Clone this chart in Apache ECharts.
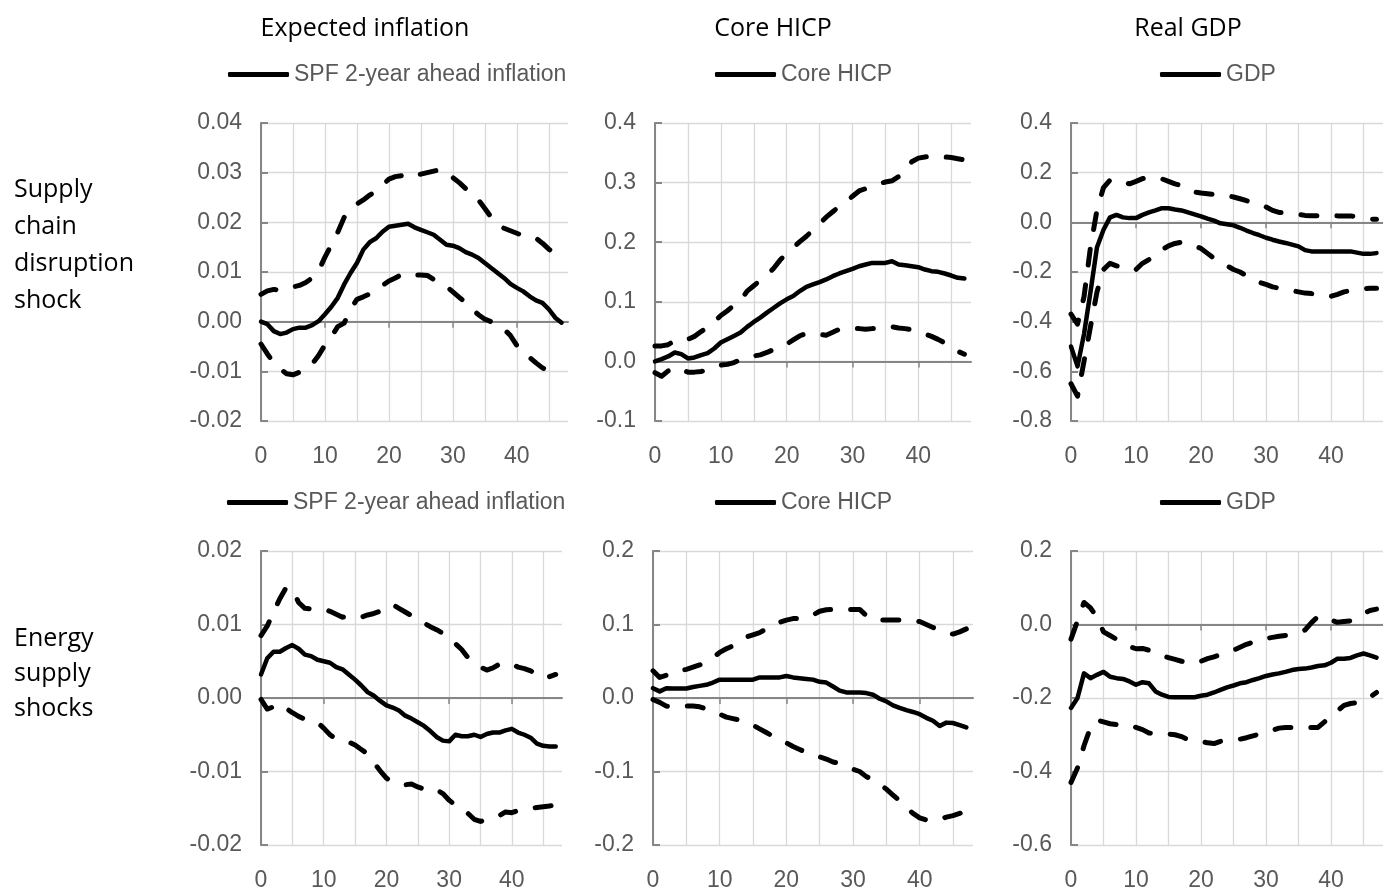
<!DOCTYPE html>
<html><head><meta charset="utf-8">
<script src="https://cdn.jsdelivr.net/npm/echarts/dist/echarts.min.js"></script>
<style>html,body{margin:0;padding:0;background:#fff}#c{width:1383px;height:892px}</style>
</head><body><div id="c"></div>
<script>
// ---------- data ----------
const horizon = [0,1,2,3,4,5,6,7,8,9,10,11,12,13,14,15,16,17,18,19,20,21,22,23,24,25,26,27,28,29,30,31,32,33,34,35,36,37,38,39,40,41,42,43,44,45,46,47,48];
const colTitles = ['Expected inflation', 'Core HICP', 'Real GDP'];
const rowLabels = [['Supply', 'chain', 'disruption', 'shock'], ['Energy', 'supply', 'shocks']];
const legendNames = ['SPF 2-year ahead inflation', 'Core HICP', 'GDP'];
// y axis: [min, max, interval, decimals]
const yAxisScales = [[-0.02, 0.04, 0.01, 2], [-0.1, 0.4, 0.1, 1], [-0.8, 0.4, 0.2, 1],
                     [-0.02, 0.02, 0.01, 2], [-0.2, 0.2, 0.1, 1], [-0.6, 0.2, 0.2, 1]];

// Supply chain disruption shock
const scSpfMid = [0, -0.0005, -0.0019, -0.0025, -0.0022, -0.0015, -0.0012, -0.0012, -0.0007, 0.0001, 0.0015, 0.003, 0.0048, 0.0075, 0.0098, 0.0118, 0.0145, 0.016, 0.0168, 0.0181, 0.0191, 0.0193, 0.0195, 0.0197, 0.019, 0.0185, 0.018, 0.0175, 0.0165, 0.0155, 0.0153, 0.0148, 0.014, 0.0135, 0.0128, 0.0118, 0.0108, 0.0098, 0.0088, 0.0076, 0.0068, 0.0061, 0.0051, 0.0043, 0.0038, 0.0025, 0.0008, -0.0002];
const scSpfUp = [0.0055, 0.0062, 0.0065, 0.0063, 0.0066, 0.007, 0.0073, 0.0079, 0.0088, 0.0102, 0.013, 0.0155, 0.018, 0.021, 0.0225, 0.0237, 0.0245, 0.0255, 0.0263, 0.0275, 0.0287, 0.0292, 0.0294, 0.03, 0.0296, 0.0297, 0.03, 0.0303, 0.0306, 0.03, 0.029, 0.028, 0.0268, 0.0253, 0.0245, 0.0228, 0.021, 0.0195, 0.0188, 0.0183, 0.0178, 0.0173, 0.0171, 0.0168, 0.0158, 0.0146, 0.0138, 0.013];
const scSpfLo = [-0.0045, -0.0065, -0.0083, -0.0095, -0.0105, -0.0107, -0.0102, -0.0097, -0.0085, -0.0068, -0.0047, -0.003, -0.001, -0.0003, 0.0025, 0.0045, 0.005, 0.0056, 0.0065, 0.0073, 0.0082, 0.0088, 0.0095, 0.0097, 0.0094, 0.0094, 0.0093, 0.0085, 0.0078, 0.0071, 0.006, 0.0049, 0.0038, 0.0025, 0.0014, 0.0005, 0.0, -0.0008, -0.0015, -0.0028, -0.0048, -0.0058, -0.0072, -0.0083, -0.0093, -0.0099, -0.0103, -0.0105];

const scCoreMid = [0, 0.0039, 0.0083, 0.015, 0.0122, 0.005, 0.0067, 0.0106, 0.0139, 0.0217, 0.0317, 0.0373, 0.0428, 0.0484, 0.0579, 0.0662, 0.0735, 0.0818, 0.0896, 0.0974, 0.1041, 0.1096, 0.118, 0.1252, 0.1291, 0.133, 0.1375, 0.143, 0.1475, 0.1514, 0.1553, 0.1597, 0.1625, 0.1653, 0.1653, 0.1653, 0.168, 0.1625, 0.1614, 0.1597, 0.158, 0.1541, 0.1514, 0.1503, 0.1475, 0.1441, 0.1402, 0.1391];
const scCoreUp = [0.026, 0.026, 0.028, 0.035, 0.034, 0.037, 0.042, 0.05, 0.057, 0.067, 0.077, 0.085, 0.094, 0.102, 0.118, 0.127, 0.136, 0.145, 0.156, 0.17, 0.181, 0.191, 0.201, 0.21, 0.22, 0.231, 0.242, 0.251, 0.26, 0.268, 0.277, 0.286, 0.29, 0.294, 0.298, 0.301, 0.303, 0.31, 0.322, 0.335, 0.341, 0.343, 0.344, 0.344, 0.343, 0.342, 0.34, 0.338];
const scCoreLo = [-0.019, -0.025, -0.016, -0.01, -0.014, -0.018, -0.018, -0.017, -0.014, -0.01, -0.006, -0.005, -0.002, 0.003, 0.007, 0.009, 0.011, 0.015, 0.02, 0.025, 0.029, 0.036, 0.043, 0.047, 0.047, 0.045, 0.044, 0.049, 0.054, 0.055, 0.055, 0.055, 0.054, 0.055, 0.055, 0.056, 0.058, 0.056, 0.055, 0.053, 0.049, 0.046, 0.042, 0.037, 0.031, 0.025, 0.017, 0.012];

const scGdpMid = [-0.5, -0.58, -0.45, -0.28, -0.1, -0.03, 0.02, 0.03, 0.02, 0.017, 0.017, 0.03, 0.04, 0.048, 0.057, 0.057, 0.052, 0.048, 0.04, 0.032, 0.024, 0.015, 0.007, -0.004, -0.008, -0.012, -0.022, -0.033, -0.043, -0.052, -0.062, -0.07, -0.077, -0.083, -0.09, -0.097, -0.112, -0.117, -0.117, -0.117, -0.117, -0.117, -0.117, -0.117, -0.122, -0.127, -0.127, -0.124];
const scGdpUp = [-0.37, -0.41, -0.3, -0.1, 0.05, 0.14, 0.17, 0.172, 0.163, 0.155, 0.165, 0.176, 0.182, 0.18, 0.175, 0.165, 0.155, 0.148, 0.13, 0.122, 0.118, 0.115, 0.112, 0.11, 0.108, 0.102, 0.095, 0.087, 0.08, 0.073, 0.062, 0.048, 0.04, 0.038, 0.037, 0.032, 0.028, 0.027, 0.027, 0.027, 0.027, 0.026, 0.026, 0.026, 0.022, 0.017, 0.013, 0.012];
const scGdpLo = [-0.65, -0.7, -0.56, -0.42, -0.28, -0.19, -0.165, -0.175, -0.185, -0.193, -0.19, -0.165, -0.15, -0.135, -0.11, -0.095, -0.085, -0.08, -0.085, -0.095, -0.105, -0.125, -0.145, -0.16, -0.175, -0.19, -0.2, -0.215, -0.235, -0.242, -0.25, -0.26, -0.265, -0.27, -0.275, -0.28, -0.285, -0.287, -0.29, -0.295, -0.298, -0.29, -0.28, -0.275, -0.272, -0.268, -0.265, -0.265];

// Energy supply shocks
const enSpfMid = [0.0032, 0.0054, 0.0063, 0.0063, 0.0068, 0.0072, 0.0067, 0.0059, 0.0057, 0.0052, 0.005, 0.0048, 0.0042, 0.0039, 0.0032, 0.0025, 0.0017, 0.0008, 0.0003, -0.0004, -0.001, -0.0013, -0.0017, -0.0024, -0.0028, -0.0033, -0.0038, -0.0045, -0.0053, -0.0058, -0.0059, -0.005, -0.0052, -0.0052, -0.005, -0.0053, -0.0049, -0.0047, -0.0047, -0.0044, -0.0042, -0.0047, -0.005, -0.0054, -0.0062, -0.0065, -0.0066, -0.0066];
const enSpfUp = [0.0085, 0.0098, 0.0117, 0.0135, 0.015, 0.0148, 0.013, 0.0122, 0.0121, 0.0121, 0.0121, 0.0118, 0.0114, 0.011, 0.0112, 0.011, 0.011, 0.0113, 0.0115, 0.0118, 0.0125, 0.0127, 0.0122, 0.0117, 0.0112, 0.0107, 0.0102, 0.0097, 0.0093, 0.0088, 0.008, 0.0074, 0.0066, 0.0055, 0.0048, 0.0042, 0.0038, 0.0041, 0.0046, 0.0048, 0.0046, 0.0042, 0.004, 0.0037, 0.0032, 0.0027, 0.0029, 0.0032];
const enSpfLo = [-0.0002, -0.0015, -0.0012, -0.0008, -0.0014, -0.002, -0.0025, -0.0029, -0.0031, -0.0033, -0.0041, -0.005, -0.0056, -0.0058, -0.006, -0.0064, -0.007, -0.0076, -0.0088, -0.0099, -0.0109, -0.0115, -0.0117, -0.0118, -0.0117, -0.0121, -0.0124, -0.0122, -0.0125, -0.013, -0.0139, -0.0146, -0.0152, -0.0157, -0.0165, -0.0168, -0.0165, -0.0162, -0.016, -0.0155, -0.0156, -0.0153, -0.0152, -0.015, -0.0149, -0.0148, -0.0147, -0.0145];

const enCoreMid = [0.0134, 0.009, 0.0134, 0.013, 0.013, 0.013, 0.015, 0.0165, 0.018, 0.021, 0.025, 0.025, 0.025, 0.025, 0.025, 0.025, 0.028, 0.028, 0.028, 0.028, 0.03, 0.028, 0.027, 0.026, 0.025, 0.022, 0.021, 0.0156, 0.01, 0.0076, 0.0076, 0.0076, 0.0067, 0.0045, -0.001, -0.0045, -0.01, -0.0134, -0.0165, -0.019, -0.022, -0.027, -0.031, -0.038, -0.0335, -0.034, -0.037, -0.04];
const enCoreUp = [0.037, 0.028, 0.031, 0.036, 0.037, 0.039, 0.042, 0.045, 0.049, 0.055, 0.062, 0.067, 0.071, 0.077, 0.083, 0.086, 0.089, 0.094, 0.098, 0.103, 0.106, 0.108, 0.108, 0.109, 0.113, 0.118, 0.12, 0.1205, 0.1205, 0.1205, 0.1205, 0.1205, 0.112, 0.106, 0.106, 0.106, 0.106, 0.106, 0.106, 0.105, 0.104, 0.1, 0.096, 0.092, 0.089, 0.087, 0.09, 0.094];
const enCoreLo = [-0.002, -0.006, -0.011, -0.012, -0.011, -0.011, -0.011, -0.012, -0.015, -0.017, -0.022, -0.026, -0.028, -0.03, -0.033, -0.037, -0.042, -0.047, -0.052, -0.056, -0.061, -0.066, -0.07, -0.074, -0.076, -0.08, -0.083, -0.087, -0.089, -0.093, -0.097, -0.1, -0.107, -0.111, -0.117, -0.124, -0.132, -0.14, -0.149, -0.157, -0.163, -0.166, -0.167, -0.165, -0.162, -0.16, -0.157, -0.154];

const enGdpMid = [-0.227, -0.2, -0.133, -0.146, -0.137, -0.129, -0.142, -0.146, -0.148, -0.155, -0.164, -0.157, -0.16, -0.182, -0.191, -0.197, -0.198, -0.198, -0.198, -0.198, -0.194, -0.191, -0.185, -0.178, -0.171, -0.166, -0.16, -0.157, -0.151, -0.146, -0.14, -0.136, -0.133, -0.129, -0.124, -0.121, -0.12, -0.117, -0.113, -0.111, -0.104, -0.093, -0.093, -0.091, -0.084, -0.079, -0.084, -0.09];
const enGdpUp = [-0.04, 0.01, 0.06, 0.045, 0.02, -0.02, -0.03, -0.04, -0.05, -0.06, -0.066, -0.065, -0.07, -0.08, -0.085, -0.09, -0.095, -0.1, -0.105, -0.105, -0.1, -0.093, -0.088, -0.082, -0.076, -0.07, -0.062, -0.054, -0.048, -0.042, -0.038, -0.035, -0.032, -0.03, -0.025, -0.02, -0.015, 0.005, 0.022, 0.02, 0.012, 0.006, 0.008, 0.01, 0.02, 0.03, 0.038, 0.042];
const enGdpLo = [-0.43, -0.39, -0.33, -0.28, -0.26, -0.265, -0.27, -0.272, -0.27, -0.275, -0.28, -0.286, -0.295, -0.298, -0.3, -0.298, -0.3, -0.305, -0.313, -0.316, -0.318, -0.322, -0.324, -0.318, -0.315, -0.313, -0.312, -0.308, -0.303, -0.298, -0.293, -0.288, -0.282, -0.28, -0.28, -0.28, -0.28, -0.28, -0.28, -0.265, -0.25, -0.235, -0.22, -0.215, -0.213, -0.208, -0.198, -0.185];

const panelData = [
  [scSpfMid, scSpfUp, scSpfLo], [scCoreMid, scCoreUp, scCoreLo], [scGdpMid, scGdpUp, scGdpLo],
  [enSpfMid, enSpfUp, enSpfLo], [enCoreMid, enCoreUp, enCoreLo], [enGdpMid, enGdpUp, enGdpLo]
];

// ---------- layout ----------
const gridBoxes = [
  {left: 261, top: 123, width: 307, height: 298},
  {left: 655, top: 123, width: 316, height: 298},
  {left: 1071, top: 123, width: 318, height: 298},
  {left: 261, top: 551, width: 301, height: 298},
  {left: 653, top: 551, width: 320, height: 298},
  {left: 1071, top: 551, width: 317, height: 298}
];
const legendPos = [[228, 63], [715, 63], [1160, 63], [227, 491], [715, 491], [1160, 491]];
const titlePos = [[365, 29], [773, 29], [1188, 29]];
const rowLabelY = [[190, 227, 264, 301], [639, 674, 709]];

const AXIS = '#868686', GRIDC = '#d9d9d9', TXT = '#595959';
const numFont = 'Liberation Sans, Arial, sans-serif';
const xAxes = [], yAxes = [], series = [], legends = [];

gridBoxes.forEach((g, p) => {
  const sc = yAxisScales[p];
  xAxes.push({
    type: 'category', gridIndex: p, data: horizon, boundaryGap: false, position: 'bottom',
    axisLine: {show: false, onZero: false},
    axisTick: {show: false},
    axisLabel: {show: true, interval: (i) => i % 10 === 0, margin: 24, fontSize: 23, color: TXT, fontFamily: numFont},
    splitLine: {show: true, interval: (i) => i % 5 === 0, lineStyle: {color: GRIDC, width: 1.3}}
  });
  xAxes.push({
    type: 'category', gridIndex: p, data: horizon, boundaryGap: false, position: 'bottom',
    axisLine: {show: true, onZero: true, lineStyle: {color: AXIS, width: 2}},
    axisTick: {show: true, interval: (i) => i % 10 === 0, length: 6, lineStyle: {color: AXIS, width: 1.5}},
    axisLabel: {show: false},
    splitLine: {show: false}
  });
  yAxes.push({
    type: 'value', gridIndex: p, min: sc[0], max: sc[1], interval: sc[2],
    axisLine: {show: true, lineStyle: {color: AXIS, width: 2}},
    axisTick: {show: true, inside: true, length: 7, lineStyle: {color: AXIS, width: 2}},
    axisLabel: {margin: 19, fontSize: 23, color: TXT, fontFamily: numFont,
      formatter: (v) => (Math.abs(v) < 1e-9 ? 0 : v).toFixed(sc[3])},
    splitLine: {show: true, lineStyle: {color: GRIDC, width: 1.3}}
  });
  const d = panelData[p];
  const name = legendNames[p % 3];
  series.push({
    type: 'line', name: name, xAxisIndex: 2 * p, yAxisIndex: p, data: d[0], symbol: 'none',
    lineStyle: {color: '#000', width: 4.5, cap: 'round', join: 'round'}, itemStyle: {color: '#000'}, z: 4, silent: true
  });
  [d[1], d[2]].forEach((arr, k) => {
    series.push({
      type: 'line', name: (k === 0 ? 'upper ' : 'lower ') + p, xAxisIndex: 2 * p, yAxisIndex: p, data: arr, symbol: 'none',
      lineStyle: {color: '#000', width: 5, type: [16, 20], cap: 'round', join: 'round'}, itemStyle: {color: '#000'}, z: 3, silent: true
    });
  });
  legends.push({
    data: [name], left: legendPos[p][0], top: legendPos[p][1], padding: 0, selectedMode: false,
    icon: 'roundRect', itemWidth: 61, itemHeight: 5, itemStyle: {borderWidth: 0, color: '#000'},
    textStyle: {fontFamily: numFont, fontSize: 23, color: TXT}
  });
});

const graphics = [];
colTitles.forEach((t, i) => graphics.push({
  type: 'text', x: titlePos[i][0], y: titlePos[i][1], silent: true,
  style: {text: t, font: '25px "Open Sans"', fill: '#000', align: 'center', verticalAlign: 'middle'}
}));
rowLabels.forEach((lines, r) => lines.forEach((t, i) => graphics.push({
  type: 'text', x: 14, y: rowLabelY[r][i], silent: true,
  style: {text: t, font: '25px "Open Sans"', fill: '#000', align: 'left', verticalAlign: 'middle'}
})));

const chart = echarts.init(document.getElementById('c'), null, {renderer: 'canvas'});
chart.setOption({
  animation: false,
  backgroundColor: '#fff',
  grid: gridBoxes.map(g => Object.assign({show: false}, g)),
  xAxis: xAxes, yAxis: yAxes, series: series, legend: legends,
  graphic: graphics
});
</script></body></html>
